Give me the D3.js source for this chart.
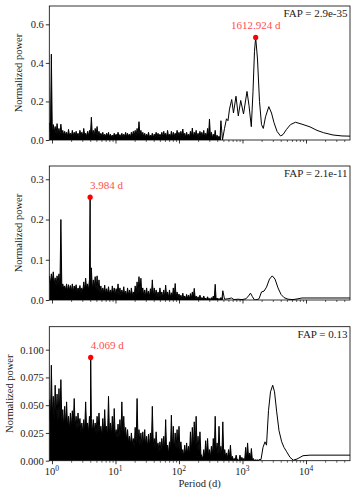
<!DOCTYPE html>
<html>
<head>
<meta charset="utf-8">
<title>Periodograms</title>
<script src="https://d3js.org/d3.v7.min.js"></script>
<style>
  body { margin: 0; background: #fff; }
  svg text { font-family: "Liberation Serif", "DejaVu Serif", serif !important; }
</style>
</head>
<body>
<script>
// noise part of each periodogram is sampled on a log-period grid (peak, valley, peak, ...)
const noiseLogStart = -0.04, noiseLogStep = 0.03;

// ---- panel 1 ----
const p1Hi = [0.09,0.445,0.08,0.07,0.085,0.06,0.082,0.05,0.045,0.04,
  0.055,0.035,0.05,0.04,0.045,0.035,0.05,0.04,0.06,0.035,
  0.045,0.05,0.118,0.05,0.06,0.07,0.045,0.035,0.04,0.03,
  0.035,0.04,0.03,0.025,0.035,0.03,0.04,0.028,0.035,0.03,
  0.04,0.035,0.03,0.04,0.045,0.05,0.06,0.095,0.05,0.04,
  0.035,0.03,0.04,0.025,0.035,0.03,0.04,0.035,0.03,0.04,
  0.045,0.035,0.05,0.03,0.045,0.04,0.035,0.05,0.04,0.045,
  0.057,0.035,0.04,0.03,0.045,0.062,0.04,0.05,0.035,0.045,
  0.04,0.05,0.035,0.06,0.109,0.04,0.03,0.05,0.025,0.02,
  0.1];
const p1Lo = [0.04,0.035,0.04,0.03,0.035,0.025,0.03,0.022,0.025,0.02,
  0.025,0.018,0.022,0.02,0.025,0.018,0.022,0.02,0.025,0.018,
  0.022,0.025,0.028,0.02,0.025,0.022,0.018,0.02,0.016,0.018,
  0.02,0.015,0.018,0.016,0.02,0.015,0.018,0.016,0.015,0.018,
  0.016,0.02,0.015,0.018,0.022,0.02,0.025,0.022,0.018,0.016,
  0.015,0.018,0.014,0.016,0.012,0.018,0.016,0.014,0.018,0.016,
  0.02,0.014,0.018,0.016,0.014,0.018,0.016,0.02,0.015,0.018,
  0.016,0.014,0.018,0.015,0.02,0.014,0.018,0.016,0.014,0.018,
  0.016,0.014,0.018,0.02,0.016,0.012,0.01,0.008,0.005,0.003];
const p1Period = [484,521,560,591,624,676,721,790,859,937,1038,1177,1265,1376,1463,1545,
  1722,1853,1992,2126,2303,2596,2863,3135,3494,3966,4343,4932,5703,6834,8650,11560,14890,18870,26620,36870,49300];
const p1Power = [0.0,0.06,0.11,0.10,0.16,0.21,0.14,0.227,0.125,0.205,0.135,0.252,0.18,0.069,0.25,0.46,
  0.42,0.20,0.08,0.06,0.12,0.173,0.14,0.09,0.045,0.021,0.028,0.055,0.08,0.092,0.082,0.068,0.05,0.038,0.026,0.021,0.02];
const p1Peak = [1612.924, 0.532];
const p1Fap = "FAP = 2.9e-35";
const p1Label = "1612.924 d";
const p1Ticks = [0, 0.2, 0.4, 0.6];

// ---- panel 2 ----
const p2Hi = [0.06,0.065,0.07,0.055,0.06,0.065,0.2,0.04,0.035,0.04,
  0.038,0.036,0.04,0.035,0.038,0.03,0.036,0.03,0.045,0.054,
  0.04,0.05,0.08,0.05,0.058,0.06,0.05,0.035,0.03,0.037,
  0.028,0.033,0.025,0.035,0.03,0.028,0.04,0.03,0.025,0.033,
  0.022,0.03,0.025,0.03,0.02,0.035,0.045,0.058,0.054,0.03,
  0.025,0.03,0.022,0.028,0.05,0.03,0.025,0.02,0.03,0.02,
  0.025,0.037,0.02,0.025,0.018,0.03,0.041,0.02,0.015,0.012,
  0.017,0.01,0.014,0.012,0.016,0.02,0.029,0.01,0.008,0.012,
  0.006,0.01,0.005,0.008,0.004,0.006,0.01,0.039,0.005,0.004,
  0.006,0.023];
const p2Lo = [0.04,0.045,0.04,0.035,0.04,0.03,0.03,0.028,0.025,0.022,
  0.025,0.022,0.02,0.024,0.02,0.022,0.018,0.02,0.025,0.028,
  0.025,0.03,0.025,0.028,0.025,0.022,0.018,0.015,0.018,0.014,
  0.016,0.014,0.012,0.015,0.012,0.014,0.012,0.01,0.013,0.011,
  0.01,0.012,0.009,0.011,0.01,0.012,0.015,0.018,0.014,0.01,
  0.009,0.011,0.008,0.01,0.009,0.01,0.007,0.008,0.009,0.006,
  0.008,0.009,0.006,0.007,0.005,0.008,0.007,0.005,0.004,0.003,
  0.004,0.003,0.004,0.003,0.004,0.005,0.004,0.002,0.002,0.003,
  0.002,0.002,0.001,0.002,0.001,0.001,0.002,0.001,0.001,0.001,
  0.001];
const p2Period = [521,591,671,735,849,982,1135,1242,1336,1436,1545,1692,1820,1992,2181,2388,2662,2945,
  3250,3625,4040,4505,5208,6240,7480,8650,11560,49300];
const p2Power = [0.002,0.003,0.005,0.001,0.002,0.001,0.003,0.01,0.017,0.008,0.0,0.001,0.003,0.02,0.022,0.032,0.052,0.06,
  0.052,0.03,0.014,0.006,0.002,0.001,0.003,0.005,0.005,0.005];
const p2Peak = [3.984, 0.2555];
const p2Fap = "FAP = 2.1e-11";
const p2Label = "3.984 d";
const p2Ticks = [0, 0.1, 0.2, 0.3];

// ---- panel 3 ----
const p3Hi = [0.055,0.086,0.058,0.068,0.06,0.065,0.073,0.046,0.049,0.053,
  0.04,0.043,0.045,0.056,0.04,0.043,0.038,0.034,0.037,0.053,
  0.034,0.04,0.038,0.037,0.034,0.04,0.043,0.031,0.038,0.046,
  0.031,0.058,0.034,0.04,0.047,0.028,0.033,0.037,0.053,0.04,
  0.03,0.028,0.022,0.025,0.02,0.03,0.056,0.028,0.025,0.026,
  0.028,0.022,0.024,0.025,0.049,0.02,0.026,0.016,0.017,0.02,
  0.022,0.037,0.014,0.017,0.041,0.031,0.025,0.028,0.031,0.017,
  0.01,0.014,0.016,0.013,0.026,0.03,0.035,0.04,0.022,0.026,
  0.004,0.01,0.018,0.02,0.01,0.013,0.02,0.04,0.016,0.031,
  0.013,0.035,0.01,0.007,0.01,0.014,0.004,0.002,0.005,0.001,
  0.005,0.003,0.002,0.012,0.016,0.007,0.011,0.002,0.001,0.001,
  0.001];
const p3Lo = [0.035,0.04,0.035,0.04,0.035,0.038,0.035,0.03,0.032,0.03,
  0.028,0.03,0.032,0.03,0.028,0.03,0.026,0.025,0.027,0.028,
  0.025,0.027,0.025,0.026,0.024,0.025,0.026,0.022,0.024,0.025,
  0.022,0.024,0.022,0.023,0.022,0.02,0.021,0.022,0.023,0.02,
  0.018,0.016,0.014,0.015,0.012,0.015,0.016,0.014,0.013,0.014,
  0.013,0.012,0.013,0.012,0.014,0.01,0.012,0.008,0.009,0.01,
  0.01,0.008,0.006,0.008,0.01,0.009,0.01,0.01,0.008,0.006,
  0.004,0.005,0.006,0.005,0.008,0.01,0.012,0.01,0.008,0.006,
  0.002,0.003,0.005,0.004,0.003,0.004,0.005,0.006,0.005,0.006,
  0.004,0.004,0.003,0.002,0.003,0.002,0.001,0.001,0.001,0.0,
  0.001,0.001,0.001,0.002,0.003,0.002,0.001,0.0,0.0,0.0];
const p3Period = [1956,2103,2261,2388,2566,2760,2990,3193,3456,3758,4143,4505,4968,5598,6310,7217,8970,11560,49300];
const p3Power = [0.001,0.012,0.017,0.014,0.045,0.062,0.068,0.062,0.044,0.027,0.017,0.012,0.008,0.003,0.0005,0.0015,0.0045,0.005,0.005];
const p3Peak = [4.069, 0.093];
const p3Fap = "FAP = 0.13";
const p3Label = "4.069 d";
const p3Ticks = [0, 0.025, 0.05, 0.075, 0.1];

const xMajor = [1, 10, 100, 1000, 10000];
const xLabel = "Period (d)";
const yLabel = "Normalized power";

// ---- layout ----
const W = 357, H = 497;
const left = 49.3, right = 350;
const FONT = "Liberation Serif";
const svg = d3.select("body").append("svg").attr("width", W).attr("height", H)
  .attr("font-family", FONT);
const x = d3.scaleLog().domain([0.907, 49300]).range([left, right]);

const xMinor = [];
[0.1, 1, 10, 100, 1000, 10000].forEach(b => {
  for (let k = 2; k <= 9; k++) {
    const v = b * k;
    if (v >= 0.907 && v <= 49300) xMinor.push(v);
  }
});

function buildNoise(hi, lo) {
  const pts = [];
  hi.forEach((h, i) => {
    pts.push([Math.pow(10, noiseLogStart + i * noiseLogStep), h]);
    if (i < lo.length) pts.push([Math.pow(10, noiseLogStart + (i + 0.5) * noiseLogStep), lo[i]]);
  });
  return pts;
}
function buildSeries(noise, period, power, peak) {
  const pts = noise.slice();
  period.forEach((p, i) => pts.push([p, power[i]]));
  pts.push(peak);
  pts.sort((a, b) => a[0] - b[0]);
  return pts;
}

const noise1 = buildNoise(p1Hi, p1Lo), noise2 = buildNoise(p2Hi, p2Lo), noise3 = buildNoise(p3Hi, p3Lo);
const panels = [
  {top: 6, bottom: 140, ymax: 0.695, ticks: p1Ticks, fmt: d3.format(".1f"),
   noise: noise1, data: buildSeries(noise1, p1Period, p1Power, p1Peak), peak: p1Peak,
   label: p1Label, fap: p1Fap, anchor: "middle", ylabX: 22},
  {top: 166, bottom: 300, ymax: 0.333, ticks: p2Ticks, fmt: d3.format(".1f"),
   noise: noise2, data: buildSeries(noise2, p2Period, p2Power, p2Peak), peak: p2Peak,
   label: p2Label, fap: p2Fap, anchor: "start", ylabX: 22},
  {top: 326.7, bottom: 460.7, ymax: 0.1207, ticks: p3Ticks, fmt: d3.format(".3f"),
   noise: noise3, data: buildSeries(noise3, p3Period, p3Power, p3Peak), peak: p3Peak,
   label: p3Label, fap: p3Fap, anchor: "start", ylabX: 12.8}
];

panels.forEach((p, idx) => {
  const y = d3.scaleLinear().domain([0, p.ymax]).range([p.bottom, p.top]);
  const g = svg.append("g");

  svg.append("clipPath").attr("id", "clip" + idx)
    .append("rect").attr("x", left).attr("y", p.top)
    .attr("width", right - left).attr("height", p.bottom - p.top);

  // dense noise: the sub-pixel oscillation looks filled, so fill under it
  const lastNoise = p.noise[p.noise.length - 1][0];
  const area = d3.area().x(d => x(d[0])).y0(p.bottom).y1(d => y(d[1]));
  g.append("path")
    .datum(p.data.filter(d => d[0] <= lastNoise))
    .attr("clip-path", "url(#clip" + idx + ")")
    .attr("fill", "#000")
    .attr("d", area);

  // periodogram line
  const line = d3.line().x(d => x(d[0])).y(d => y(d[1]));
  g.append("path")
    .datum(p.data)
    .attr("clip-path", "url(#clip" + idx + ")")
    .attr("fill", "none")
    .attr("stroke", "#000")
    .attr("stroke-width", 1)
    .attr("d", line);

  // y axis
  const yAxis = d3.axisLeft(y).tickValues(p.ticks).tickFormat(p.fmt).tickSize(3.5).tickPadding(2);
  const ya = g.append("g").attr("transform", "translate(" + left + ",0)").call(yAxis)
    .attr("font-family", FONT);
  ya.select(".domain").remove();
  ya.selectAll("line").attr("stroke", "#000").attr("stroke-width", 0.8);
  ya.selectAll("text").attr("font-size", 10.5).attr("fill", "#222");

  // x axis, major and minor ticks
  const xa = g.append("g").attr("transform", "translate(0," + p.bottom + ")")
    .call(d3.axisBottom(x).tickValues(xMajor).tickFormat("").tickSize(3.5));
  xa.select(".domain").remove();
  xa.selectAll("line").attr("stroke", "#000").attr("stroke-width", 0.8);
  const xm = g.append("g").attr("transform", "translate(0," + p.bottom + ")")
    .call(d3.axisBottom(x).tickValues(xMinor).tickFormat("").tickSize(2));
  xm.select(".domain").remove();
  xm.selectAll("line").attr("stroke", "#000").attr("stroke-width", 0.6);

  // frame
  g.append("rect").attr("x", left).attr("y", p.top)
    .attr("width", right - left).attr("height", p.bottom - p.top)
    .attr("fill", "none").attr("stroke", "#000").attr("stroke-width", 0.8);

  // y label
  g.append("text")
    .attr("transform", "translate(" + p.ylabX + "," + (p.top + p.bottom) / 2 + ") rotate(-90)")
    .attr("text-anchor", "middle")
    .attr("font-size", 10.5).attr("fill", "#222")
    .text(yLabel);

  // FAP
  g.append("text")
    .attr("x", 347.5).attr("y", p.top + 11.3)
    .attr("text-anchor", "end")
    .attr("font-size", 11).attr("fill", "#222")
    .text(p.fap);

  // highest peak
  const px = x(p.peak[0]), py = y(p.peak[1]);
  g.append("circle").attr("cx", px).attr("cy", py).attr("r", 2.6).attr("fill", "#ff0000");
  g.append("text")
    .attr("x", px).attr("y", py - 8)
    .attr("text-anchor", p.anchor)
    .attr("font-size", 11).attr("fill", "#ff4d4d")
    .text(p.label);

  // x tick labels on the bottom panel only
  if (idx === panels.length - 1) {
    xMajor.forEach((v, k) => {
      const t = g.append("text")
        .attr("x", x(v)).attr("y", p.bottom + 14.5)
        .attr("text-anchor", "middle")
        .attr("font-size", 10.5).attr("fill", "#222");
      t.append("tspan").text("10");
      t.append("tspan").attr("dy", -4).attr("font-size", 7.5).text(String(k));
    });
    g.append("text")
      .attr("x", (left + right) / 2).attr("y", p.bottom + 26)
      .attr("text-anchor", "middle")
      .attr("font-size", 10.5).attr("fill", "#222")
      .text(xLabel);
  }
});
</script>
</body>
</html>
